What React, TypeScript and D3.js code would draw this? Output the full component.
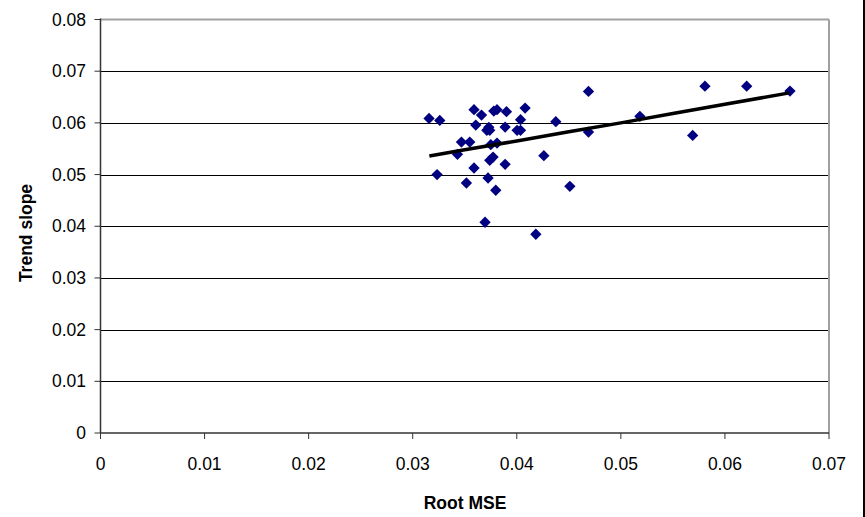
import React from "react";
import * as d3 from "d3";

const rootMSE: number[] = [
  0.03157, 0.0326, 0.03589, 0.03661, 0.03606, 0.03779, 0.0381, 0.03901, 0.0408, 0.04036,
  0.03731, 0.03712, 0.0374, 0.03888, 0.04003, 0.04036, 0.04375, 0.03468, 0.03548, 0.0343,
  0.0375, 0.0381, 0.0374, 0.03772, 0.03888, 0.03589, 0.0426, 0.03234, 0.03516, 0.03724,
  0.03798, 0.03695, 0.04183, 0.04689, 0.04689, 0.0451, 0.05183, 0.0569, 0.05808, 0.06209,
  0.06625,
];
const trendSlope: number[] = [
  0.06087, 0.06048, 0.06255, 0.06151, 0.05957, 0.06228, 0.06255, 0.06216, 0.06286, 0.06062,
  0.05913, 0.05855, 0.05855, 0.05919, 0.05855, 0.05855, 0.06023, 0.05629, 0.05629, 0.05391,
  0.05579, 0.0561, 0.05275, 0.05339, 0.05198, 0.05127, 0.05366, 0.04999, 0.04837, 0.04933,
  0.04696, 0.04077, 0.03845, 0.06609, 0.05822, 0.04773, 0.06126, 0.05758, 0.06711, 0.06711,
  0.06615,
];
const fitX: number[] = [0.0316, 0.035, 0.04, 0.045, 0.05, 0.055, 0.06, 0.0662];
const fitY: number[] = [0.0536, 0.0548, 0.0565, 0.0583, 0.06, 0.0618, 0.0636, 0.0658];
const xTicks: number[] = [0, 0.01, 0.02, 0.03, 0.04, 0.05, 0.06, 0.07];
const yTicks: number[] = [0, 0.01, 0.02, 0.03, 0.04, 0.05, 0.06, 0.07, 0.08];
const xTickLabels: string[] = ["0", "0.01", "0.02", "0.03", "0.04", "0.05", "0.06", "0.07"];
const yTickLabels: string[] = ["0", "0.01", "0.02", "0.03", "0.04", "0.05", "0.06", "0.07", "0.08"];

const W = 865;
const H = 517;
const L = 100.5;
const R = 829;
const T = 19.5;
const B = 433;
const font = "Liberation Sans, Arial, sans-serif";

export default function App() {
  const x = d3.scaleLinear().domain([0, 0.07]).range([L, R]);
  const y = d3.scaleLinear().domain([0, 0.08]).range([B, T]);
  const line = d3
    .line<number>()
    .x((_, i) => x(fitX[i]))
    .y((d) => y(d));
  const diamond = d3.symbol().type(d3.symbolSquare).size(64)() as string;

  return (
    <svg
      width={W}
      height={H}
      style={{ position: "absolute", left: 0, top: 0, background: "#fff" }}
    >
      <rect x={0} y={0} width={W} height={H} fill="#fff" />
      {yTicks.slice(1, -1).map((t) => (
        <line key={"g" + t} x1={L} x2={R} y1={Math.round(y(t)) + 0.5} y2={Math.round(y(t)) + 0.5} stroke="#000" strokeWidth={1} />
      ))}
      <line x1={L} x2={R} y1={T} y2={T} stroke="#a0a0a0" strokeWidth={2} />
      <line x1={R} x2={R} y1={T} y2={B} stroke="#a0a0a0" strokeWidth={2} />
      <line x1={L} x2={L} y1={T - 1} y2={B} stroke="#333" strokeWidth={1.5} />
      <line x1={L} x2={R} y1={B} y2={B} stroke="#333" strokeWidth={1.5} />
      {yTicks.map((t, i) => (
        <g key={"yt" + t}>
          <line x1={L - 6} x2={L} y1={y(t)} y2={y(t)} stroke="#333" strokeWidth={1} />
          <text x={86} y={y(t)} dy="0.35em" textAnchor="end" fontFamily={font} fontSize={17.5} fill="#000">
            {yTickLabels[i]}
          </text>
        </g>
      ))}
      {xTicks.map((t, i) => (
        <g key={"xt" + t}>
          <line x1={x(t)} x2={x(t)} y1={B} y2={B + 6} stroke="#333" strokeWidth={1} />
          <text x={x(t)} y={470} textAnchor="middle" fontFamily={font} fontSize={17.5} fill="#000">
            {xTickLabels[i]}
          </text>
        </g>
      ))}
      {rootMSE.map((v, i) => (
        <path key={"p" + i} d={diamond} transform={`translate(${x(v)},${y(trendSlope[i])}) rotate(45)`} fill="#000080" />
      ))}
      <path d={line(fitY) as string} fill="none" stroke="#000" strokeWidth={3.5} strokeLinejoin="round" />
      <text x={465} y={509} textAnchor="middle" fontFamily={font} fontSize={17.5} fontWeight="bold" fill="#000">
        Root MSE
      </text>
      <text
        transform={`translate(32,233) rotate(-90)`}
        textAnchor="middle"
        fontFamily={font}
        fontSize={17.5}
        fontWeight="bold"
        fill="#000"
      >
        Trend slope
      </text>
      <line x1={W - 1} x2={W - 1} y1={0} y2={H} stroke="#000" strokeWidth={2} />
    </svg>
  );
}
